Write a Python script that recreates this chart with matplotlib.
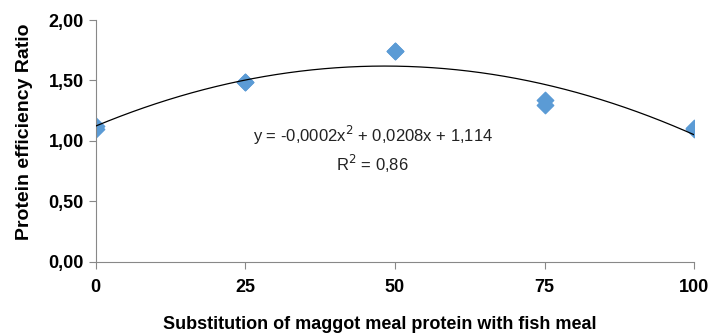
import matplotlib.pyplot as plt
import numpy as np

# substitution level (%) and protein efficiency ratio (replicates overlap)
subst = [0, 0, 25, 25, 50, 50, 75, 75, 100, 100]
per = [1.12, 1.10, 1.49, 1.49, 1.74, 1.74, 1.34, 1.30, 1.11, 1.10]

xticks = [0, 25, 50, 75, 100]
yticks = [0.0, 0.5, 1.0, 1.5, 2.0]
ytick_labels = ['0,00', '0,50', '1,00', '1,50', '2,00']

plt.rcParams['font.family'] = ['Liberation Sans', 'DejaVu Sans']

fig = plt.figure(figsize=(7.2, 3.34), dpi=100)
ax = fig.add_axes([0.133, 0.216, 0.831, 0.724])

# polynomial trendline (order 2)
coef = np.polyfit(subst, per, 2)
xs = np.linspace(0, 100, 200)
ax.plot(xs, np.polyval(coef, xs), color='black', lw=0.9, zorder=3)

ax.scatter(subst, per, marker='D', s=70, color='#5B9BD5', zorder=2)

ax.set_xlim(0, 100)
ax.set_ylim(0, 2)
ax.set_xticks(xticks)
ax.set_xticklabels([str(t) for t in xticks], fontsize=13, fontweight='bold')
ax.set_yticks(yticks)
ax.set_yticklabels(ytick_labels, fontsize=13, fontweight='bold')
ax.tick_params(axis='both', direction='out', length=5, color='#888888', width=0.8)
ax.tick_params(axis='x', pad=7)

for s in ['top', 'right']:
    ax.spines[s].set_visible(False)
for s in ['left', 'bottom']:
    ax.spines[s].set_color('#888888')
    ax.spines[s].set_linewidth(0.8)

ax.set_ylabel('Protein efficiency Ratio', fontsize=14, fontweight='bold')
ax.yaxis.set_label_coords(-0.105, 0.537)
ax.set_xlabel('Substitution of maggot meal protein with fish meal', fontsize=13,
              fontweight='bold')
ax.xaxis.set_label_coords(0.474, -0.222)

ax.text(0.463, 0.465, 'y = -0,0002x$^2$ + 0,0208x + 1,114\nR$^2$ = 0,86',
        transform=ax.transAxes, ha='center', va='center', fontsize=12,
        color='#222222', linespacing=1.35)

fig.savefig('out.png', dpi=100)
